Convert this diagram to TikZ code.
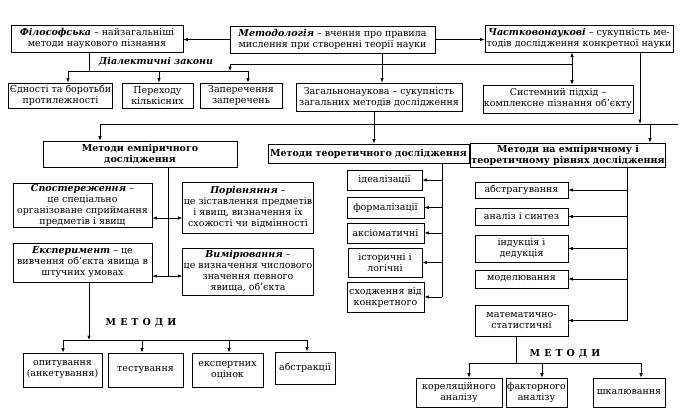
\documentclass[tikz,border=0pt]{standalone}
\usepackage{fontspec}
\setmainfont{DejaVu Serif}
\usetikzlibrary{arrows.meta}
\begin{document}
\begin{tikzpicture}[x=1pt,y=-1pt,
  bx/.style={draw, line width=0.8pt, align=center, inner sep=1pt,
    font=\fontsize{9.5}{11}\selectfont},
  ln/.style={line width=0.7pt},
  ar/.style={ln, -{Latex[length=4.5pt,width=3.5pt]}},
  dar/.style={ln, {Latex[length=4.5pt,width=3.5pt]}-{Latex[length=4.5pt,width=3.5pt]}},
  lbl/.style={inner sep=0pt, font=\fontsize{9.5}{11}\selectfont\bfseries}
]
\useasboundingbox (0,0) rectangle (684,416);
\fill[white] (0,0) rectangle (684,416);

% top row
\node[bx, minimum width=172, minimum height=27] (fil) at (97,38.5)
  {\textbf{\textit{Філософська}} – найзагальніші\\методи наукового пізнання};
\node[bx, minimum width=205, minimum height=27] (met) at (332.5,39.5)
  {\textbf{\textit{Методологія}} – вчення про правила\\мислення при створенні теорії науки};
\node[bx, minimum width=188, minimum height=27] (chast) at (579,38.5)
  {\textbf{\textit{Частковонаукові}} – сукупність ме-\\тодів дослідження конкретної науки};

% second row
\node[bx, minimum width=101, minimum height=25] (yed) at (60.5,95.5)
  {Єдності та боротьби\\протилежності};
\node[bx, minimum width=71, minimum height=25] (per) at (157.5,95.5)
  {Переходу\\кількісних};
\node[bx, minimum width=82, minimum height=25] (zap) at (241,95.5)
  {Заперечення\\заперечень};
\node[bx, minimum width=166, minimum height=28] (zag) at (379,97)
  {Загальнонаукова – сукупність\\загальних методів дослідження};
\node[bx, minimum width=150, minimum height=28] (sys) at (558,99)
  {Системний підхід –\\комплексне пізнання об’єкту};

\node[lbl, font=\fontsize{9.5}{11}\selectfont\bfseries\itshape] (dl) at (156,62) {Діалектичні закони};

% third row
\node[bx, minimum width=194, minimum height=26] (emp) at (140,154)
  {\textbf{Методи емпіричного}\\\textbf{дослідження}};
\node[bx, minimum width=201, minimum height=19] (teo) at (368.5,153.5)
  {\textbf{Методи теоретичного дослідження}};
\node[bx, minimum width=190, minimum height=24] (et) at (568,155)
  {\textbf{Методи на емпіричному і}\\\textbf{теоретичному рівнях дослідження}};

% empirical
\node[bx, minimum width=139, minimum height=44] (spos) at (82.5,205)
  {\textbf{\textit{Спостереження}} –\\це спеціально\\організоване сприймання\\предметів і явищ};
\node[bx, minimum width=130, minimum height=51] (por) at (248,207.5)
  {\textbf{\textit{Порівняння}} –\\це зіставлення предметів\\і явищ, визначення їх\\схожості чи відмінності};
\node[bx, minimum width=139, minimum height=39] (eksp) at (82.5,262.5)
  {\textbf{\textit{Експеримент}} – це\\вивчення об’єкта явища в\\штучних умовах};
\node[bx, minimum width=130, minimum height=47] (vym) at (248,271.5)
  {\textbf{\textit{Вимірювання}} –\\це визначення числового\\значення певного\\явища, об’єкта};

% theoretical
\node[bx, minimum width=75, minimum height=20] (ideal) at (384.5,180) {ідеалізації};
\node[bx, minimum width=77, minimum height=21] (form) at (385.5,207.5) {формалізації};
\node[bx, minimum width=77, minimum height=20] (aks) at (385.5,233) {аксіоматичні};
\node[bx, minimum width=74, minimum height=29] (ist) at (385,262.5) {історичні і\\логічні};
\node[bx, minimum width=77, minimum height=30] (skh) at (385.5,297) {сходження від\\конкретного};

% empirical-theoretical
\node[bx, minimum width=93, minimum height=16] (abstr) at (521.5,190) {абстрагування};
\node[bx, minimum width=93, minimum height=17] (anal) at (521.5,216.5) {аналіз і синтез};
\node[bx, minimum width=93, minimum height=27] (ind) at (521.5,248.5) {індукція і\\дедукція};
\node[bx, minimum width=93, minimum height=18] (mod) at (521.5,279) {моделювання};
\node[bx, minimum width=93, minimum height=31] (mat) at (521.5,320.5) {математично-\\статистичні};

% bottom right
\node[lbl] (m2) at (565,354) {М\hspace{4pt}Е\hspace{4pt}Т\hspace{4pt}О\hspace{4pt}Д\hspace{4pt}И};
\node[bx, minimum width=86, minimum height=29] (kor) at (459,392.5) {кореляційного\\аналізу};
\node[bx, minimum width=57, minimum height=29] (fakt) at (536.5,392.5) {факторного\\аналізу};
\node[bx, minimum width=72, minimum height=29] (shk) at (629,392.5) {шкалювання};

% bottom left
\node[lbl] (m1) at (141,323) {М\hspace{4pt}Е\hspace{4pt}Т\hspace{4pt}О\hspace{4pt}Д\hspace{4pt}И};
\node[bx, minimum width=79, minimum height=34] (opyt) at (62.5,370) {опитування\\(анкетування)};
\node[bx, minimum width=75, minimum height=34] (test) at (145.5,370) {тестування};
\node[bx, minimum width=71, minimum height=34] (eksper) at (227.5,370) {експертних\\оцінок};
\node[bx, minimum width=60, minimum height=32] (abstrk) at (305,368) {абстракції};

% ---- connectors ----
\draw[ar] (met.west) -- (met.west -| fil.east);
\draw[ar] (met.east) -- (met.east -| chast.west);

% dialectic laws
\coordinate (dj) at (89,71);
\draw[ln] (dj |- fil.south) -- (dj);
\draw[ln] (68,71) -- (248,71);
\draw[ar] (68,71) -- (68,71 |- yed.north);
\draw[ar] (159,71) -- (159,71 |- per.north);
\draw[ar] (248,71) -- (248,71 |- zap.north);

% partial sciences <-> system approach
\coordinate (cs) at (572,64);
\draw[dar] (cs |- chast.south) -- (cs |- sys.north);
\draw[ar] (cs) -| (230,71);

% methodology -> general
\draw[ar] (382,0 |- met.south) -- (382,0 |- zag.north);

% bus at y=124
\coordinate (busL) at (100,124);
\coordinate (busR) at (678,124);
\coordinate (busE) at (650,124);
\coordinate (busC) at (640,124);
\draw[ln] (busL) -- (busR);
\draw[ar] (busL) -- (busL |- emp.north);
\draw[ar] (busE) -- (busE |- et.north);
\draw[ar] (busC |- chast.south) -- (busC);
\draw[ar] (374,0 |- zag.south) -- (374,0 |- teo.north);

% empirical trunk
\coordinate (lt) at (168,167);
\draw[ln] (lt |- emp.south) -- (168,276);
\draw[dar] (spos.east |- 0,218) -- (por.west |- 0,218);
\draw[dar] (eksp.east |- 0,276) -- (vym.west |- 0,276);

% theoretical trunk
\coordinate (tt) at (442,163);
\draw[ln] (tt |- teo.south) -- (tt |- skh.east);
\foreach \b in {ideal,form,aks,ist,skh}
  \draw[ar] (tt |- \b.east) -- (\b.east);

% emp-theor trunk
\coordinate (rt) at (627,167);
\draw[ln] (rt |- et.south) -- (rt |- mat.east);
\foreach \b in {abstr,anal,ind,mod,mat}
  \draw[ar] (rt |- \b.east) -- (\b.east);

% bottom left methods
\coordinate (bl) at (89,340);
\draw[ar] (bl |- eksp.south) -- (bl);
\draw[ln] (63,340) -- (307,340);
\draw[ar] (63,340) -- (63,340 |- opyt.north);
\draw[ar] (142,340) -- (142,340 |- test.north);
\draw[ar] (229,340) -- (229,340 |- eksper.north);
\draw[ar] (307,340) -- (307,340 |- abstrk.north);

% bottom right methods
\coordinate (br) at (516,363);
\draw[ln] (br |- mat.south) -- (br);
\draw[ln] (469,363) -- (641,363);
\draw[ar] (469,363) -- (469,363 |- kor.north);
\draw[ar] (542,363) -- (542,363 |- fakt.north);
\draw[ar] (641,363) -- (641,363 |- shk.north);
\end{tikzpicture}
\end{document}
